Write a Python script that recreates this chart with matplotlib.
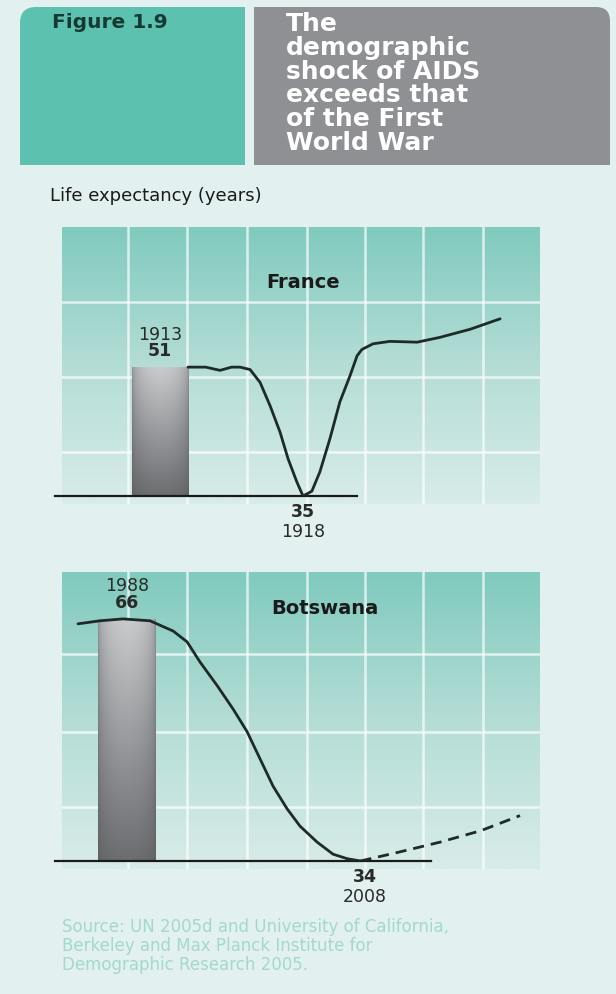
import numpy as np
import matplotlib.pyplot as plt
from matplotlib.patches import FancyBboxPatch, Rectangle
from matplotlib.colors import LinearSegmentedColormap

# data
france_years = [1913.98, 1914.6, 1915.1, 1915.5, 1915.8, 1916.15, 1916.5, 1916.85, 1917.2,
                1917.48, 1917.79, 1918.0, 1918.31, 1918.59, 1918.94, 1919.29, 1919.64,
                1919.89, 1920.06, 1920.45, 1921.04, 1921.99, 1922.79, 1923.84, 1924.89]
france_life = [51.0, 51.0, 50.6, 51.0, 51.0, 50.7, 49.1, 46.2, 42.9,
               39.6, 36.7, 35.0, 35.6, 38.0, 42.1, 46.7, 49.9,
               52.4, 53.2, 53.9, 54.2, 54.1, 54.7, 55.7, 57.0]
france_bar = (1913, 51)
france_low = (1918, 35)

bots_years = [1983.88, 1985.73, 1987.66, 1989.93, 1991.87, 1993.04, 1994.13, 1995.56, 1996.9,
              1998.08, 1999.17, 2000.26, 2001.44, 2002.53, 2003.96, 2005.3, 2006.5, 2007.6]
bots_life = [65.35, 65.75, 66.0, 65.75, 64.4, 62.97, 60.3, 57.2, 54.1,
             51.1, 47.5, 43.9, 40.9, 38.6, 36.5, 34.9, 34.3, 34.0]
bots_proj_years = [2007.6, 2010.9, 2014.3, 2017.7, 2021.0]
bots_proj_life = [34.0, 35.2, 36.5, 38.0, 40.0]
bots_bar = (1988, 66)
bots_low = (2008, 34)

W, H = 616, 995
BG = '#e2f1ef'
fig = plt.figure(figsize=(W / 100, H / 100), dpi=100)
fig.patch.set_facecolor(BG)


def fbox(x0, y0, x1, y1):
    # pixel box (top-left origin) -> figure fraction rect
    return [x0 / W, 1 - y1 / H, (x1 - x0) / W, (y1 - y0) / H]


# header boxes
hdr = fig.add_axes([0, 0, 1, 1])
hdr.set_xlim(0, W)
hdr.set_ylim(H, 0)
hdr.axis('off')
TEAL = '#5dc1af'
hdr.add_patch(FancyBboxPatch((20, 8), 225, 158, boxstyle='round,pad=0,rounding_size=16',
                             fc=TEAL, ec='none'))
hdr.add_patch(Rectangle((20, 60), 225, 106, fc=TEAL, ec='none'))
hdr.add_patch(Rectangle((80, 8), 165, 158, fc=TEAL, ec='none'))
hdr.add_patch(FancyBboxPatch((254, 8), 356, 158, boxstyle='round,pad=0,rounding_size=14',
                             fc='#8f9094', ec='none'))
hdr.add_patch(Rectangle((254, 60), 356, 106, fc='#8f9094', ec='none'))
hdr.add_patch(Rectangle((254, 8), 300, 158, fc='#8f9094', ec='none'))
hdr.text(52, 22, 'Figure 1.9', fontsize=14.5, fontweight='bold', color='#163a33', va='center')
title = ['The', 'demographic', 'shock of AIDS', 'exceeds that', 'of the First', 'World War']
for i, line in enumerate(title):
    hdr.text(286, 24 + i * 23.8, line, fontsize=18, fontweight='bold', color='white', va='center')
hdr.text(50, 196, 'Life expectancy (years)', fontsize=13, color='#1a1a1a', va='center')
src = ('Source: UN 2005d and University of California,\n'
       'Berkeley and Max Planck Institute for\n'
       'Demographic Research 2005.')
hdr.text(62, 946, src, fontsize=12, color='#a3d8cd', va='center', linespacing=1.1)

teal = LinearSegmentedColormap.from_list('t', ['#80cabe', '#b4ddd6', '#d8ece9'])
grey = LinearSegmentedColormap.from_list('g', ['#4f5052', '#8a8b8e', '#c9cacc'])


def panel(box, grid_box, hlines, xlim, ylim, years, life, bar, bar_w, low, name, name_xy,
          top_lab_y, low_lab_dy, base_end, proj=None):
    # background gradient with white grid
    bgax = fig.add_axes(fbox(*grid_box))
    bgax.set_xlim(0, 1)
    bgax.set_ylim(0, 1)
    bgax.axis('off')
    grad = np.linspace(0, 1, 256).reshape(-1, 1)
    bgax.imshow(grad, extent=[0, 1, 0, 1], cmap=teal, aspect='auto', origin='upper')
    gx0, gy0, gx1, gy1 = grid_box
    for px in [128, 187, 247, 307, 365, 423, 483]:
        bgax.axvline((px - gx0) / (gx1 - gx0), color='white', lw=1.8, alpha=0.7)
    for py in hlines:
        bgax.axhline(1 - (py - gy0) / (gy1 - gy0), color='white', lw=1.8, alpha=0.7)

    ax = fig.add_axes(fbox(*box))
    ax.set_xlim(*xlim)
    ax.set_ylim(*ylim)
    ax.axis('off')
    ax.patch.set_alpha(0)

    # shaded column
    bx, bv = bar
    b = ax.bar(bx, bv - ylim[0], width=bar_w, bottom=ylim[0], color='#8a8b8e', zorder=2)[0]
    xs = np.linspace(-1, 1, 64)
    shade = 0.55 + 0.45 * np.sqrt(1 - xs ** 2)
    vert = np.linspace(1, 0, 128).reshape(-1, 1)
    img = (0.25 + 0.75 * vert) * shade.reshape(1, -1)
    im = ax.imshow(img, extent=[bx - bar_w / 2, bx + bar_w / 2, ylim[0], bv], cmap=grey,
                   vmin=0, vmax=1, aspect='auto', origin='upper', zorder=3)
    im.set_clip_path(b)

    ax.plot([xlim[0], base_end], [ylim[0], ylim[0]], color='#1a1a1a', lw=1.6,
            zorder=4, clip_on=False)
    ax.plot(years, life, color='#1e2a27', lw=2.0, zorder=5, solid_capstyle='round',
            solid_joinstyle='round')
    if proj is not None:
        ax.plot(proj[0], proj[1], color='#1e2a27', lw=2.0, ls=(0, (4, 2.5)), zorder=5)

    ax.text(name_xy[0], name_xy[1], name, fontsize=14, fontweight='bold', color='#1a1a1a',
            ha='center', va='center')
    ax.text(bx, top_lab_y[0], str(bx), fontsize=12.5, color='#2a2a2a', ha='center', va='center')
    ax.text(bx, top_lab_y[1], str(bv), fontsize=12.5, fontweight='bold', color='#2a2a2a',
            ha='center', va='center')
    lx, lv = low
    ax.text(lx, ylim[0] - low_lab_dy[0], str(lv), fontsize=12.5, fontweight='bold',
            color='#2a2a2a', ha='center', va='center', clip_on=False)
    ax.text(lx, ylim[0] - low_lab_dy[1], str(lx), fontsize=12.5, color='#2a2a2a',
            ha='center', va='center', clip_on=False)


# France: 1913 at px 160, 28.6 px/yr; 35 at px 497, 8.06 px/yr
panel(box=(55, 228, 545, 497), grid_box=(62, 228, 540, 505), hlines=[303, 378, 453],
      xlim=(1909.33, 1926.46), ylim=(35, 68.4), years=france_years, life=france_life,
      bar=france_bar, bar_w=1.96, low=france_low, name='France', name_xy=(1918.0, 61.6),
      top_lab_y=(55.1, 53.1), low_lab_dy=(1.9, 4.4), base_end=1919.89)

# Botswana: 1988 at px 127, 11.9 px/yr; 34 at px 862, 7.56 px/yr
panel(box=(55, 573, 545, 862), grid_box=(62, 573, 540, 870), hlines=[655, 733, 808],
      xlim=(1981.95, 2023.1), ylim=(34, 72.2), years=bots_years, life=bots_life,
      bar=bots_bar, bar_w=4.8, low=bots_low, name='Botswana', name_xy=(2004.6, 67.5),
      top_lab_y=(70.5, 68.2), low_lab_dy=(2.0, 4.6), base_end=2013.5,
      proj=(bots_proj_years, bots_proj_life))

fig.savefig('out.png', dpi=100, facecolor=BG)
